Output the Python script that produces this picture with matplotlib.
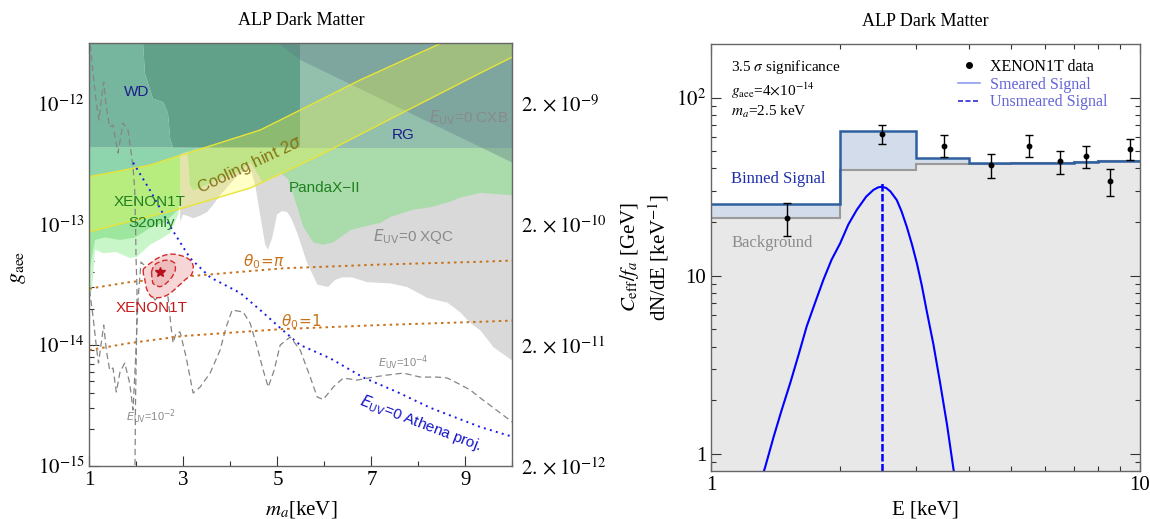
import numpy as np
import matplotlib
matplotlib.use("Agg")
import matplotlib.pyplot as plt
from matplotlib.lines import Line2D
from matplotlib.ticker import FixedLocator, FixedFormatter, NullFormatter, NullLocator

plt.rcParams['font.family'] = 'serif'
plt.rcParams['font.serif'] = ['Liberation Serif', 'DejaVu Serif']
plt.rcParams['mathtext.fontset'] = 'stix'
SANS = ['Liberation Sans', 'DejaVu Sans']

# ---------------- left panel data: m_a [keV], log10 g_aee ----------------
g_min, g_max = 1e-15, 3.14e-12
g_ticks = [1e-15, 1e-14, 1e-13, 1e-12]
g_labels = [r'$10^{-15}$', r'$10^{-14}$', r'$10^{-13}$', r'$10^{-12}$']
rg_logg = -12.365

wd_m = [2.14, 2.18, 2.35, 2.57, 2.67, 2.72, 2.78]
wd_logg = [-11.50, -11.75, -11.96, -11.99, -12.08, -12.30, -12.365]
wd_mmax = 5.49

cxb_m = [5.0, 5.49, 10.0]
cxb_logg = [-11.50, -11.64, -12.49]

xqc_m = [2.93, 2.99, 3.08, 3.21, 3.35, 3.50, 3.63, 3.78, 4.14, 4.42, 4.53, 4.63, 4.74,
         4.80, 4.89, 4.99, 5.10, 5.21, 5.29, 5.42, 5.63, 5.85, 6.08, 6.23, 6.38, 6.59,
         6.91, 7.40, 7.76, 8.19, 8.62, 8.89, 9.11, 9.32, 9.60, 10.0]
xqc_logg = [-12.98, -12.92, -12.93, -12.95, -12.93, -12.90, -12.84, -12.76, -12.60, -12.53,
            -12.68, -12.92, -13.17, -13.21, -13.11, -12.92, -12.89, -12.90, -12.95, -13.07,
            -13.32, -13.50, -13.52, -13.46, -13.44, -13.44, -13.48, -13.49, -13.52, -13.61,
            -13.65, -13.73, -13.82, -13.88, -14.02, -14.13]

pandax_m = [3.08, 3.14, 3.21, 3.46, 3.72, 4.14, 4.42, 4.53, 4.68, 4.85, 5.06, 5.23, 5.34,
            5.55, 5.76, 5.97, 6.19, 6.55, 6.83, 7.19, 7.40, 7.89, 8.25, 8.62, 8.89, 9.32, 10.0]
pandax_logg = [-12.365, -12.68, -12.72, -12.68, -12.63, -12.57, -12.49, -12.55, -12.65, -12.62,
               -12.57, -12.63, -12.76, -13.02, -13.15, -13.17, -13.15, -13.05, -13.02, -12.99,
               -12.94, -12.88, -12.86, -12.82, -12.78, -12.74, -12.76]

s2_outer_m = [1.0, 1.05, 1.12, 1.29, 1.57, 1.86, 2.01, 2.29, 2.57, 2.72, 2.82, 2.89, 2.93]
s2_outer_logg = [-13.61, -13.55, -13.21, -13.24, -13.23, -13.28, -13.27, -13.17, -13.11,
                 -13.07, -12.98, -12.92, -12.84]
s2_inner_m = [1.0, 1.12, 1.33, 1.65, 1.97, 2.29, 2.61, 2.89, 2.93]
s2_inner_logg = [-13.38, -13.13, -13.11, -13.13, -13.11, -13.03, -12.98, -12.88, -12.80]

cool_lo_m = [1.0, 2.99, 4.42, 5.06, 5.91, 7.61, 9.32, 10.0]
cool_lo_logg = [-13.062, -12.866, -12.70, -12.584, -12.427, -12.087, -11.747, -11.615]
cool_hi_m = [1.0, 2.29, 4.63, 5.06, 6.76, 8.47]
cool_hi_logg = [-12.606, -12.51, -12.22, -12.137, -11.805, -11.503]

athena_m = [1.93, 2.29, 2.72, 3.14, 3.57, 4.21, 4.63, 5.12, 5.48, 6.12, 6.83, 7.55, 8.25, 9.32, 10.0]
athena_logg = [-12.49, -12.72, -13.02, -13.28, -13.44, -13.57, -13.71, -13.88, -14.00, -14.11,
               -14.27, -14.39, -14.52, -14.68, -14.76]

theta_pi_m = [1.0, 1.86, 2.99, 5.12, 7.19, 9.32, 10.0]
theta_pi_logg = [-13.533, -13.479, -13.435, -13.365, -13.334, -13.311, -13.301]
theta_1_m = [1.0, 1.86, 2.99, 5.12, 7.19, 9.32, 10.0]
theta_1_logg = [-14.042, -13.984, -13.926, -13.868, -13.835, -13.808, -13.798]

euv2_m = [1.017, 1.075, 1.145, 1.202, 1.251, 1.303, 1.358, 1.43, 1.501, 1.607, 1.714, 1.82,
          1.927, 1.963, 1.98, 1.991, 2.012, 2.001, 1.98, 1.969]
euv2_logg = [-11.515, -11.747, -11.996, -12.137, -11.971, -11.822, -12.029, -12.195, -12.178,
             -12.41, -12.162, -12.22, -12.526, -12.717, -13.007, -13.28, -13.545, -13.959,
             -14.456, -15.003]

euv4_m = [1.0, 1.075, 1.145, 1.192, 1.251, 1.303, 1.358, 1.43, 1.501, 1.571, 1.65, 1.75, 1.856,
          1.927, 1.98, 2.033, 2.097, 2.182, 2.289, 2.395, 2.545, 2.672, 2.736, 2.779, 2.843,
          2.928, 3.056, 3.205, 3.354, 3.567, 3.78, 3.908, 4.036, 4.27, 4.419, 4.568, 4.696,
          4.803, 4.93, 5.058, 5.271, 5.484, 5.697, 5.846, 5.974, 6.187, 6.4, 6.699, 7.04,
          7.338, 7.679, 8.041, 8.403, 8.616, 8.829, 9.106, 9.319, 10.0]
euv4_logg = [-13.545, -13.761, -14.009, -14.15, -13.984, -13.835, -14.042, -14.208, -14.191,
             -14.39, -14.224, -14.15, -14.316, -14.539, -14.125, -13.628, -13.313, -13.346,
             -13.562, -13.628, -13.57, -13.603, -13.852, -13.984, -13.901, -13.893, -14.1,
             -14.398, -14.349, -14.233, -14.042, -13.852, -13.711, -13.727, -13.819, -14.018,
             -14.208, -14.349, -14.208, -14.001, -13.934, -14.042, -14.266, -14.431, -14.452,
             -14.349, -14.274, -14.291, -14.266, -14.249, -14.233, -14.266, -14.266, -14.274,
             -14.316, -14.374, -14.44, -14.639]

x1t_outer_m = [2.14, 2.15, 2.18, 2.21, 2.26, 2.32, 2.42, 2.53, 2.63, 2.72, 2.80, 2.89, 2.96,
               3.03, 3.10, 3.17, 3.20, 3.21, 3.19, 3.14, 3.06, 2.96, 2.85, 2.72, 2.61, 2.51,
               2.41, 2.32, 2.25, 2.20, 2.16]
x1t_outer_logg = [-13.379, -13.42, -13.462, -13.53, -13.575, -13.601, -13.61, -13.606, -13.592,
                  -13.572, -13.545, -13.512, -13.488, -13.462, -13.44, -13.421, -13.39, -13.352,
                  -13.32, -13.297, -13.275, -13.261, -13.25, -13.247, -13.255, -13.269, -13.29,
                  -13.316, -13.335, -13.352, -13.365]
x1t_inner_m = [2.32, 2.33, 2.35, 2.42, 2.50, 2.59, 2.67, 2.75, 2.82, 2.83, 2.82, 2.75, 2.67,
               2.58, 2.50, 2.42, 2.37, 2.34]
x1t_inner_logg = [-13.394, -13.45, -13.49, -13.51, -13.518, -13.505, -13.476, -13.44, -13.394,
                  -13.36, -13.324, -13.305, -13.297, -13.3, -13.311, -13.325, -13.346, -13.37]
x1t_best = (2.5, 4e-14)

fa_per_g = 2000.0
fa_ticks = [2e-12, 2e-11, 2e-10, 2e-9]
fa_labels = [r'$2.\times10^{-12}$', r'$2.\times10^{-11}$', r'$2.\times10^{-10}$', r'$2.\times10^{-9}$']

# ---------------- right panel data ----------------
bin_edges = [1, 2, 3, 4, 5, 6, 7, 8, 9, 10]
binned_signal = [25.2, 64.7, 45.9, 42.7, 42.9, 43.2, 43.5, 43.9, 44.2]
background = [21.2, 39.2, 42.2, 42.5, 42.8, 43.1, 43.4, 43.8, 44.1]
data_e = [1.5, 2.5, 3.5, 4.5, 5.5, 6.5, 7.5, 8.5, 9.5]
data_y = [21.0, 62.8, 53.8, 41.8, 53.8, 43.9, 46.9, 34.0, 51.2]
data_hi = [25.5, 70.6, 61.3, 48.3, 61.3, 50.2, 53.5, 39.8, 58.2]
data_lo = [16.6, 54.7, 46.5, 35.5, 46.5, 37.2, 40.4, 28.1, 44.6]
smear_e = [1.306, 1.336, 1.40, 1.46, 1.53, 1.60, 1.671, 1.75, 1.827, 1.91, 2.0, 2.09, 2.186,
           2.3, 2.39, 2.45, 2.5, 2.56, 2.62, 2.71, 2.78, 2.86, 2.94, 3.02, 3.10, 3.18, 3.30,
           3.42, 3.55, 3.67, 3.708]
smear_y = [0.71, 0.835, 1.25, 1.75, 2.5, 3.6, 5.19, 7.1, 9.46, 12.3, 15.2, 19.4, 23.4,
           27.8, 30.3, 31.3, 31.6, 31.1, 29.7, 26.6, 23.0, 18.8, 15.0, 11.7, 8.8, 6.4, 4.1,
           2.5, 1.45, 0.835, 0.71]
unsmeared_e = 2.5
unsmeared_top = 34.0


def G(a):
    return 10 ** np.asarray(a, dtype=float)


def log_minors(lo_exp, hi_exp, vmin, vmax):
    out = []
    for e in range(lo_exp, hi_exp + 1):
        for k in range(2, 10):
            v = k * 10.0 ** e
            if vmin < v < vmax:
                out.append(v)
    return out


fig = plt.figure(figsize=(11.5, 5.19), dpi=100)

# ======================= left panel =======================
ax = fig.add_axes([0.0778, 0.1027, 0.3678, 0.8135])
ax.set_yscale('log')
ax.set_xlim(1, 10)
ax.set_ylim(g_min, g_max)
g_rg = 10 ** rg_logg
g_top = g_max * 1.05

# XQC (gray)
ax.fill(xqc_m + [10, xqc_m[0]], list(G(xqc_logg)) + [g_top, g_top], color='#d9d9d9', lw=0, zorder=1)
# PandaX-II
ax.fill(pandax_m + [10], list(G(pandax_logg)) + [g_rg], color='#aadcab', lw=0, zorder=2)
# XENON1T S2only
ax.fill(s2_outer_m + [s2_outer_m[-1], 1], list(G(s2_outer_logg)) + [g_rg, g_rg], color='#c9f6c9', lw=0, zorder=3)
ax.fill(s2_inner_m + [s2_inner_m[-1], 1], list(G(s2_inner_logg)) + [g_rg, g_rg], color='#9de69d', lw=0, zorder=3)
hi_g = G(cool_hi_logg)
ax.fill_between(cool_hi_m, hi_g, g_rg, where=hi_g < g_rg, interpolate=True, color='#8ed5ad', lw=0, zorder=3)
# RG / WD regions
ax.fill([1] + wd_m + [1], [g_top, *G(wd_logg), g_rg], color='#76b69e', lw=0, zorder=4)
ax.fill(wd_m + [wd_mmax, wd_mmax], [*G(wd_logg), g_rg, g_top], color='#62a189', lw=0, zorder=4)
ax.fill([wd_mmax, 10, 10, wd_mmax], [g_top, g_top, g_rg, g_rg], color='#93c0ad', lw=0, zorder=4)
# CXB
ax.fill(cxb_m + [10], [*G(cxb_logg), g_top], color='#5f8088', alpha=0.4, lw=0, zorder=5)
# cooling hint
ax.fill(cool_lo_m + [10] + cool_hi_m[::-1], [*G(cool_lo_logg), g_top, *G(cool_hi_logg)[::-1]],
        color='#ffff30', alpha=0.27, lw=0, zorder=6)
ax.plot(cool_lo_m, G(cool_lo_logg), color='#e8e438', lw=1.0, zorder=6)
ax.plot(cool_hi_m, G(cool_hi_logg), color='#e8e438', lw=1.0, zorder=6)

# lines
ax.plot(euv2_m, G(euv2_logg), color='#858585', lw=0.9, ls=(0, (5, 3)), zorder=7)
ax.plot(euv4_m, G(euv4_logg), color='#858585', lw=0.9, ls=(0, (5, 3)), zorder=7)
ax.plot(athena_m, G(athena_logg), color='#1a1ae6', lw=1.4, ls=(0, (1, 2.2)), zorder=8)
ax.plot(theta_pi_m, G(theta_pi_logg), color='#c8731c', lw=1.4, ls=(0, (1.3, 2)), zorder=8)
ax.plot(theta_1_m, G(theta_1_logg), color='#c8731c', lw=1.4, ls=(0, (1.3, 2)), zorder=8)

# XENON1T fit
ax.fill(x1t_outer_m, G(x1t_outer_logg), facecolor='#f6d6d6', edgecolor='#d42a2a', lw=1.0,
        ls=(0, (4, 2)), zorder=9)
ax.fill(x1t_inner_m, G(x1t_inner_logg), facecolor='#eebcbc', edgecolor='#d42a2a', lw=1.0,
        ls=(0, (4, 2)), zorder=9)
ax.plot([x1t_best[0]], [x1t_best[1]], marker='*', color='#b5121b', ms=7, zorder=10)

# labels
def lab(x, lg, s, color, size=11, **kw):
    ax.text(x, 10 ** lg, s, color=color, fontsize=size, family=SANS, math_fontfamily='dejavusans',
            ha=kw.pop('ha', 'center'), va='center', zorder=11, **kw)

lab(2.0, -11.907, 'WD', '#1c1c8c')
lab(7.68, -12.261, 'RG', '#1c1c8c')
lab(9.92, -12.114, r'$E_{\rm UV}$=0 CXB', '#8a8a8a', ha='right')
lab(4.42, -12.51, r'Cooling hint 2$\sigma$', '#857515', size=12, rotation=25)
lab(6.0, -12.703, 'PandaX\u2212II', '#1f7f1f')
lab(2.29, -12.814, 'XENON1T', '#1f7f1f')
lab(2.33, -12.99, 'S2only', '#1f7f1f')
lab(7.89, -13.104, r'$E_{\rm UV}$=0 XQC', '#8a8a8a')
lab(4.72, -13.313, r'$\theta_0\!=\!\pi$', '#c8731c')
lab(5.51, -13.808, r'$\theta_0\!=\!1$', '#c8731c')
lab(7.68, -14.15, r'$E_{\rm UV}$=10$^{-4}$', '#8a8a8a', size=8)
lab(2.31, -14.597, r'$E_{\rm UV}$=10$^{-2}$', '#8a8a8a', size=8)
lab(8.06, -14.647, r'$E_{\rm UV}$=0 Athena proj.', '#1515c8', rotation=-21)
lab(2.32, -13.694, 'XENON1T', '#c41a1a')

ax.xaxis.set_major_locator(FixedLocator([1, 3, 5, 7, 9]))
ax.xaxis.set_minor_locator(FixedLocator([2, 4, 6, 8, 10]))
ax.yaxis.set_major_locator(FixedLocator(g_ticks))
ax.yaxis.set_major_formatter(FixedFormatter(g_labels))
ax.yaxis.set_minor_locator(FixedLocator(log_minors(-15, -12, g_min, g_max)))
ax.yaxis.set_minor_formatter(NullFormatter())
ax.tick_params(which='both', direction='in', top=True, right=True, labelsize=15, colors='#333333',
               labelcolor='black', width=0.8)
ax.tick_params(which='major', length=7)
ax.tick_params(which='minor', length=3.5)
for s in ax.spines.values():
    s.set_color('#666666')
    s.set_linewidth(1.0)
    s.set_zorder(12)

axr = ax.twinx()
axr.set_yscale('log')
axr.set_ylim(g_min * fa_per_g, g_max * fa_per_g)
axr.yaxis.set_major_locator(FixedLocator(fa_ticks))
axr.yaxis.set_major_formatter(FixedFormatter(fa_labels))
axr.yaxis.set_minor_locator(NullLocator())
axr.tick_params(axis='y', length=0, labelsize=15, pad=6)
for s in axr.spines.values():
    s.set_visible(False)

ax.set_title('ALP Dark Matter', fontsize=13, pad=13)
ax.set_ylabel(r'$g_{\rm aee}$', fontsize=16)
ax.yaxis.set_label_coords(-0.145, 0.47)
ax.set_xlabel(r'$m_a$[keV]', fontsize=15)
ax.xaxis.set_label_coords(0.5, -0.08)

# ======================= right panel =======================
bx = fig.add_axes([0.6183, 0.0925, 0.3730, 0.8227])
bx.set_xscale('log')
bx.set_yscale('log')
bx.set_xlim(1, 10)
bx.set_ylim(0.8, 200)

bx.stairs(background, bin_edges, baseline=0.8, fill=True, color='#e8e8e8', lw=0, zorder=1)
bx.stairs(binned_signal, bin_edges, baseline=background, fill=True, color='#d3dcea', lw=0, zorder=2)
bx.stairs(background, bin_edges, baseline=None, color='#9a9a9a', lw=1.5, zorder=3)
bx.stairs(binned_signal, bin_edges, baseline=None, color='#2e5f9e', lw=1.8, zorder=4)

bx.plot(smear_e, smear_y, color='#0000ff', lw=1.5, zorder=5)
bx.vlines(unsmeared_e, 0.8, unsmeared_top, colors='#0000ff', lw=1.8, linestyles=(0, (3, 1)), zorder=5)

yerr = [np.array(data_y) - np.array(data_lo), np.array(data_hi) - np.array(data_y)]
bx.errorbar(data_e, data_y, yerr=yerr, fmt='o', color='black', ms=3.2, capsize=3, elinewidth=1,
            capthick=1, zorder=6)

handles = [Line2D([], [], marker='o', color='black', ls='none', ms=4),
           Line2D([], [], color='#8c9ff0', lw=1.2),
           Line2D([], [], color='#2a2ad8', lw=1.2, ls=(0, (3, 1.5)))]
leg = bx.legend(handles, ['XENON1T data', 'Smeared Signal', 'Unsmeared Signal'], loc='upper left',
                bbox_to_anchor=(0.575, 0.965), frameon=False, fontsize=11.5, handlelength=1.4,
                handletextpad=0.6, labelspacing=0.1, borderpad=0, borderaxespad=0)
for t, c in zip(leg.get_texts(), ['black', '#6464d8', '#6464d8']):
    t.set_color(c)

bx.text(0.047, 0.947, r'3.5 $\sigma$ significance', transform=bx.transAxes, fontsize=11, va='center')
bx.text(0.047, 0.891, r'$g_{\rm aee}$=4$\times$10$^{-14}$', transform=bx.transAxes, fontsize=11, va='center')
bx.text(0.047, 0.842, r'$m_a$=2.5 keV', transform=bx.transAxes, fontsize=11, va='center')
bx.text(0.047, 0.683, 'Binned Signal', transform=bx.transAxes, fontsize=12, va='center', color='#1f2fa8', zorder=7)
bx.text(0.047, 0.535, 'Background', transform=bx.transAxes, fontsize=12, va='center', color='#8c8c8c', zorder=7)

bx.xaxis.set_major_locator(FixedLocator([1, 10]))
bx.xaxis.set_major_formatter(FixedFormatter(['1', '10']))
bx.xaxis.set_minor_locator(FixedLocator([2, 3, 4, 5, 6, 7, 8, 9]))
bx.xaxis.set_minor_formatter(NullFormatter())
bx.yaxis.set_major_locator(FixedLocator([1, 10, 100]))
bx.yaxis.set_major_formatter(FixedFormatter(['1', '10', r'$10^2$']))
bx.yaxis.set_minor_locator(FixedLocator(log_minors(-1, 2, 0.8, 200)))
bx.yaxis.set_minor_formatter(NullFormatter())
bx.tick_params(which='both', direction='in', top=True, right=True, labelsize=15, colors='#333333',
               labelcolor='black', width=0.8)
bx.tick_params(which='major', length=7)
bx.tick_params(which='minor', length=3.5)
for s in bx.spines.values():
    s.set_color('#666666')
    s.set_linewidth(1.0)
    s.set_zorder(12)

bx.set_title('ALP Dark Matter', fontsize=13, pad=13)
bx.set_ylabel('$C_{\\rm eff}/f_a$ [GeV]\ndN/dE [keV$^{-1}$]', fontsize=15, linespacing=1.3)
bx.yaxis.set_label_coords(-0.093, 0.5)
bx.set_xlabel('E [keV]', fontsize=15)
bx.xaxis.set_label_coords(0.5, -0.068)

fig.savefig('out.png', dpi=100)
